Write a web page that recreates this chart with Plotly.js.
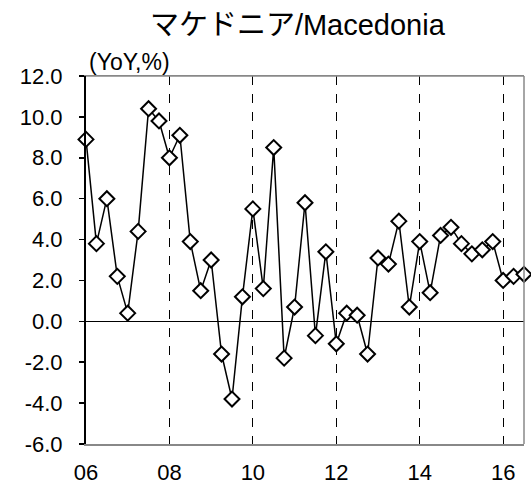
<!DOCTYPE html>
<html>
<head>
<meta charset="utf-8">
<script src="https://cdn.plot.ly/plotly-3.0.1.min.js"></script>
<style>html,body{margin:0;padding:0;background:#fff;}#chart{width:531px;height:486px;}</style>
</head>
<body>
<div id="chart"></div>
<script>
// Quarterly periods (year, quarter)
const years = [2006,2006,2006,2006,2007,2007,2007,2007,2008,2008,2008,2008,2009,2009,2009,2009,
  2010,2010,2010,2010,2011,2011,2011,2011,2012,2012,2012,2012,2013,2013,2013,2013,
  2014,2014,2014,2014,2015,2015,2015,2015,2016,2016,2016];
const quarters = [1,2,3,4,1,2,3,4,1,2,3,4,1,2,3,4,1,2,3,4,1,2,3,4,1,2,3,4,1,2,3,4,1,2,3,4,1,2,3,4,1,2,3];
// Real GDP growth, YoY %
const yoy = [8.9,3.8,6.0,2.2, 0.4,4.4,10.4,9.8, 8.0,9.1,3.9,1.5, 3.0,-1.6,-3.8,1.2,
  5.5,1.6,8.5,-1.8, 0.7,5.8,-0.7,3.4, -1.1,0.4,0.3,-1.6, 3.1,2.8,4.9,0.7,
  3.9,1.4,4.2,4.6, 3.8,3.3,3.5,3.9, 2.0,2.2,2.3];
const xTickVals = [2006,2008,2010,2012,2014,2016];
const xTickText = ["06","08","10","12","14","16"];
const yTickVals = [-6,-4,-2,0,2,4,6,8,10,12];
const yTickText = ["-6.0","-4.0","-2.0","0.0","2.0","4.0","6.0","8.0","10.0","12.0"];

const xs = years.map((y,i)=> y + (quarters[i]-1)/4);
const FONT = "Liberation Sans, Arial, Noto Sans CJK JP, sans-serif";

const trace = {
  x: xs, y: yoy, type: 'scatter', mode: 'lines+markers',
  line: {color: '#000', width: 1.5},
  marker: {symbol: 'diamond', size: 11.5, color: '#fff', line: {color: '#000', width: 2}},
  cliponaxis: false, hoverinfo: 'skip'
};

const layout = {
  width: 531, height: 486,
  margin: {l: 86, r: 6.5, t: 76, b: 42},
  paper_bgcolor: '#fff', plot_bgcolor: '#fff',
  font: {family: FONT, size: 22, color: '#000'},
  showlegend: false,
  title: {text: 'マケドニア/Macedonia', font: {family: FONT, size: 29, color: '#000'},
    xref: 'container', x: 0.56, xanchor: 'center', yref: 'container', y: 1 - 25/486, yanchor: 'middle'},
  xaxis: {
    range: [2006, 2016.5], tickvals: xTickVals, ticktext: xTickText,
    showgrid: true, gridcolor: '#000', gridwidth: 1, griddash: 'dash',
    showline: true, linecolor: '#888', linewidth: 1.5, mirror: true,
    ticks: '', zeroline: false, ticklen: 0, ticklabelstandoff: 8, tickfont: {size: 22}
  },
  yaxis: {
    range: [-6, 12], tickvals: yTickVals, ticktext: yTickText,
    showgrid: false, zeroline: true, zerolinecolor: '#000', zerolinewidth: 1.5,
    showline: true, linecolor: '#000', linewidth: 2,
    ticks: 'outside', ticklen: 5, tickwidth: 1.5, tickcolor: '#000', ticklabelstandoff: 12, tickfont: {size: 22}
  },
  shapes: [
    {type: 'line', xref: 'paper', yref: 'paper', x0: 0, x1: 1, y0: 1, y1: 1, line: {color: '#888', width: 1.5}},
    {type: 'line', xref: 'paper', yref: 'paper', x0: 1, x1: 1, y0: 0, y1: 1, line: {color: '#888', width: 1.5}}
  ],
  annotations: [
    {text: '(YoY,%)', xref: 'paper', yref: 'paper', x: 0, y: 1, xanchor: 'left', yanchor: 'middle',
     xshift: 1, yshift: 14, showarrow: false, font: {family: FONT, size: 23, color: '#000'}}
  ]
};

Plotly.newPlot('chart', [trace], layout, {staticPlot: true, displayModeBar: false});
</script>
</body>
</html>
